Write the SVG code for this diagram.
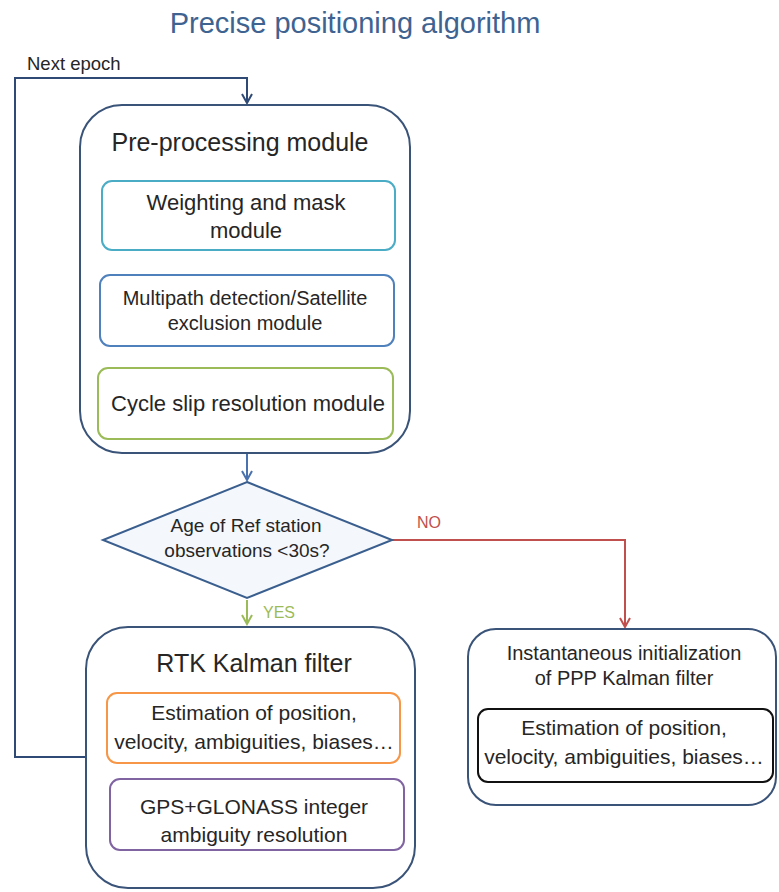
<svg xmlns="http://www.w3.org/2000/svg" width="779" height="892" viewBox="0 0 779 892">
<defs>
<style>
text{font-family:"Liberation Sans",Arial,sans-serif;fill:#262626;text-anchor:middle}
.title{font-size:29px;fill:#3E6391}
.hd{font-size:25px}
.mid{font-size:21px}
.sm{font-size:20px}
.dia{font-size:19px}
.lbl{font-size:16px;text-anchor:start}
.outer{fill:#fff;stroke:#3A5378;stroke-width:2}
.inner{fill:#fff;stroke-width:2}
.conn{fill:none;stroke-width:2}
</style>
<marker id="aBlue" viewBox="0 0 12 12" refX="10" refY="6" markerWidth="12" markerHeight="12" markerUnits="userSpaceOnUse" orient="auto"><path d="M1,1 L10,6 L1,11" fill="none" stroke="#4A72AE" stroke-width="2"/></marker>
<marker id="aNavy" viewBox="0 0 12 12" refX="10" refY="6" markerWidth="12" markerHeight="12" markerUnits="userSpaceOnUse" orient="auto"><path d="M1,1 L10,6 L1,11" fill="none" stroke="#2E4A75" stroke-width="2"/></marker>
<marker id="aRed" viewBox="0 0 12 12" refX="10" refY="6" markerWidth="12" markerHeight="12" markerUnits="userSpaceOnUse" orient="auto"><path d="M1,1 L10,6 L1,11" fill="none" stroke="#C0504D" stroke-width="2"/></marker>
<marker id="aGreen" viewBox="0 0 12 12" refX="10" refY="6" markerWidth="12" markerHeight="12" markerUnits="userSpaceOnUse" orient="auto"><path d="M1,1 L10,6 L1,11" fill="none" stroke="#9BBB59" stroke-width="2"/></marker>
</defs>
<rect width="779" height="892" fill="#fff"/>
<text class="title" x="355" y="33">Precise positioning algorithm</text>

<g id="connectors">
<path class="conn" d="M86,757 H15 V78 H247 V103" stroke="#2E4A75" marker-end="url(#aNavy)"/>
<text class="lbl" x="27" y="70" style="font-size:18.5px">Next epoch</text>
<path class="conn" d="M247,454 V480" stroke="#4A72AE" marker-end="url(#aBlue)"/>
<path class="conn" d="M392,540 H625 V627" stroke="#C0504D" marker-end="url(#aRed)"/>
<text class="lbl" x="417" y="528" style="fill:#C0504D">NO</text>
<path class="conn" d="M247,600 V624" stroke="#9BBB59" marker-end="url(#aGreen)"/>
<text class="lbl" x="263" y="618" style="fill:#9BBB59">YES</text>
</g>

<g id="preprocessing">
<rect class="outer" x="80" y="105" width="330" height="348" rx="42"/>
<text class="hd" x="240" y="151">Pre-processing module</text>
</g>
<g id="weighting">
<rect class="inner" x="102" y="181" width="293" height="69" rx="10" stroke="#4BACC6"/>
<text class="mid" x="246" y="210" style="font-size:22px">Weighting and mask</text>
<text class="mid" x="246" y="238" style="font-size:22px">module</text>
</g>
<g id="multipath">
<rect class="inner" x="100" y="275" width="294" height="71" rx="10" stroke="#4F81BD"/>
<text class="sm" x="245" y="305">Multipath detection/Satellite</text>
<text class="sm" x="245" y="330">exclusion module</text>
</g>
<g id="cycleslip">
<rect class="inner" x="98" y="368" width="295" height="71" rx="10" stroke="#9BBB59"/>
<text class="mid" x="248" y="411" style="font-size:22px">Cycle slip resolution module</text>
</g>

<g id="decision">
<polygon points="247,482 392,540 247,598 103,540" fill="#F4F7FB" stroke="#3A5F8F" stroke-width="2"/>
<text class="dia" x="246" y="532">Age of Ref station</text>
<text class="dia" x="247" y="557">observations &lt;30s?</text>
</g>

<g id="rtk">
<rect class="outer" x="86" y="627" width="329" height="261" rx="42"/>
<text class="hd" x="254" y="672">RTK Kalman filter</text>
</g>
<g id="estimation-rtk">
<rect class="inner" x="107" y="693" width="293" height="70" rx="10" stroke="#F79646"/>
<text class="mid" x="254" y="720">Estimation of position,</text>
<text class="mid" x="254" y="749">velocity, ambiguities, biases…</text>
</g>
<g id="ambiguity">
<rect class="inner" x="110" y="779" width="294" height="71" rx="10" stroke="#8064A2"/>
<text class="mid" x="254" y="814">GPS+GLONASS integer</text>
<text class="mid" x="254" y="842">ambiguity resolution</text>
</g>

<g id="ppp">
<rect class="outer" x="468" y="629" width="308" height="176" rx="28"/>
<text class="sm" x="624" y="660">Instantaneous initialization</text>
<text class="sm" x="624" y="685">of PPP Kalman filter</text>
</g>
<g id="estimation-ppp">
<rect class="inner" x="478" y="709" width="295" height="73" rx="10" stroke="#111" stroke-width="2.5"/>
<text class="mid" x="624" y="735">Estimation of position,</text>
<text class="mid" x="624" y="764">velocity, ambiguities, biases…</text>
</g>
</svg>
